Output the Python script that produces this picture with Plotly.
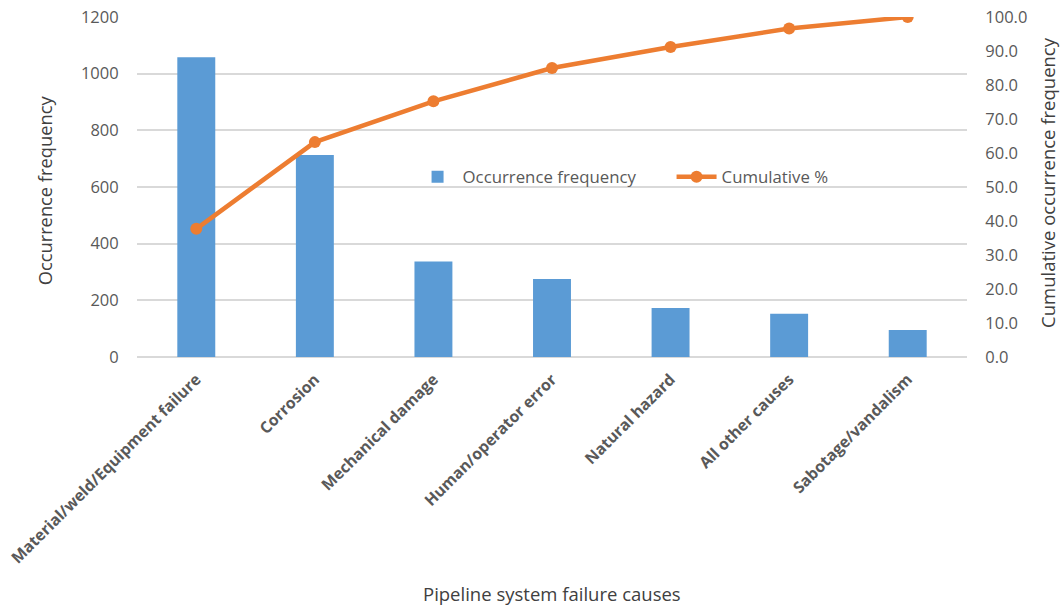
import plotly.graph_objects as go

# Pipeline failure causes, sorted by occurrence (Pareto order)
causes = [
    "Material/weld/Equipment failure",
    "Corrosion",
    "Mechanical damage",
    "Human/operator error",
    "Natural hazard",
    "All other causes",
    "Sabotage/vandalism",
]
occurrence = [1058, 713, 337, 275, 173, 153, 95]
cumulative_pct = [37.7, 63.2, 75.2, 85.0, 91.2, 96.6, 100.0]

left_ticks = [0, 200, 400, 600, 800, 1000, 1200]
right_ticks = [0, 10, 20, 30, 40, 50, 60, 70, 80, 90, 100]

BLUE = "#5B9BD5"
ORANGE = "#ED7D31"
GRID = "#D9D9D9"
TXT = "#595959"
TITLE = "#404040"
FONT = "'Open Sans', sans-serif"

fig = go.Figure()
fig.add_trace(go.Bar(
    x=causes, y=occurrence, name="Occurrence frequency",
    marker=dict(color=BLUE, line=dict(width=0)), width=0.32,
))
fig.add_trace(go.Scatter(
    x=causes, y=cumulative_pct, name="Cumulative %", yaxis="y2",
    mode="lines+markers",
    line=dict(color=ORANGE, width=4.5),
    marker=dict(color=ORANGE, size=12),
))

fig.update_layout(
    width=1064, height=606,
    margin=dict(l=137, r=97, t=17, b=249),
    paper_bgcolor="white", plot_bgcolor="white",
    font=dict(family=FONT, size=15, color=TXT),
    showlegend=True,
    legend=dict(
        orientation="h", x=0.332, y=0.53, xanchor="left", yanchor="middle",
        font=dict(size=16.8, color=TXT), bgcolor="rgba(0,0,0,0)",
        itemwidth=40, entrywidth=204, entrywidthmode="pixels",
    ),
    xaxis=dict(
        automargin=False,
        tickangle=-45,
        tickfont=dict(size=15.8, color=TXT, family=FONT, weight="bold"),
        showgrid=False, showline=False,
        ticks="outside", ticklen=6, tickcolor="rgba(0,0,0,0)",
    ),
    yaxis=dict(
        automargin=False,
        range=[0, 1200], tickvals=left_ticks,
        showgrid=True, gridcolor=GRID, gridwidth=1.5,
        zeroline=True, zerolinecolor=GRID, zerolinewidth=1.5,
        showline=False,
        ticks="outside", ticklen=14, tickcolor="rgba(0,0,0,0)",
        tickfont=dict(size=16.5, color=TXT),
    ),
    yaxis2=dict(
        automargin=False,
        range=[0, 100], tickvals=right_ticks, tickformat=".1f",
        overlaying="y", side="right",
        showgrid=False, zeroline=False, showline=False,
        ticks="outside", ticklen=14, tickcolor="rgba(0,0,0,0)",
        tickfont=dict(size=16.5, color=TXT),
    ),
    annotations=[
        dict(text="Pipeline system failure causes", xref="paper", yref="paper",
             x=0.5, y=-0.697, xanchor="center", yanchor="middle", showarrow=False,
             font=dict(size=18.5, color=TITLE)),
        dict(text="Occurrence frequency", xref="paper", yref="paper",
             x=-0.111, y=0.49, xanchor="center", yanchor="middle", showarrow=False,
             textangle=-90, font=dict(size=18.3, color=TITLE)),
        dict(text="Cumulative occurrence frequency", xref="paper", yref="paper",
             x=1.0976, y=0.512, xanchor="center", yanchor="middle", showarrow=False,
             textangle=-90, font=dict(size=18.5, color=TITLE)),
    ],
)

fig.write_html("out.html")
